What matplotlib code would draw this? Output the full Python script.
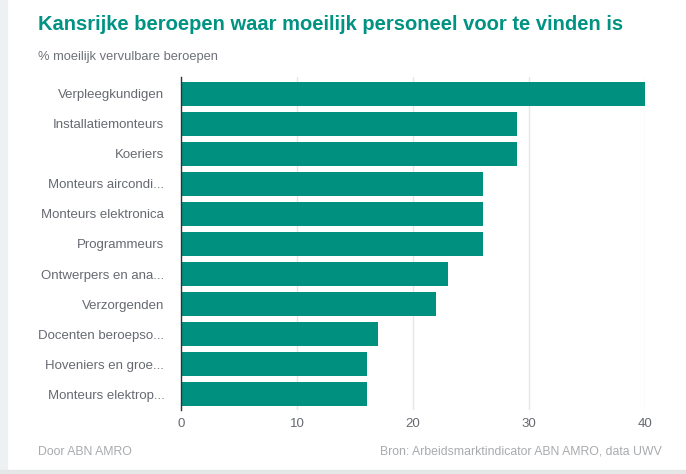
import matplotlib.pyplot as plt
from matplotlib.patches import Rectangle

plt.rcParams['font.family'] = ['Liberation Sans', 'DejaVu Sans']

beroepen = ["Verpleegkundigen", "Installatiemonteurs", "Koeriers",
            "Monteurs aircondi...", "Monteurs elektronica", "Programmeurs",
            "Ontwerpers en ana...", "Verzorgenden", "Docenten beroepso...",
            "Hoveniers en groe...", "Monteurs elektrop..."]
percentages = [40, 29, 29, 26, 26, 26, 23, 22, 17, 16, 16]
xticks = [0, 10, 20, 30, 40]

teal = "#00907f"

fig = plt.figure(figsize=(6.86, 4.74), dpi=100)
fig.patch.set_facecolor("white")
# grey frame strips at left and bottom
fig.add_artist(Rectangle((0, 0), 7 / 686, 1, transform=fig.transFigure,
                         color="#eef1f2", zorder=0))
fig.add_artist(Rectangle((0, 0), 1, 4 / 474, transform=fig.transFigure,
                         color="#e4e6e7", zorder=0))

ax = fig.add_axes([181 / 686, 1 - 410 / 474, (645 - 181) / 686, (410 - 77) / 474])
ax.barh(range(len(beroepen)), percentages, height=0.8, color=teal, zorder=2)

ax.set_xlim(0, 40)
ax.set_ylim(10.52, -0.55)
ax.set_yticks(range(len(beroepen)))
ax.set_yticklabels(beroepen)
ax.set_xticks(xticks)
ax.tick_params(axis="y", length=0, pad=12, labelsize=9.5, labelcolor="#666a70")
ax.tick_params(axis="x", length=0, pad=6, labelsize=9.5, labelcolor="#666a70")
ax.grid(axis="x", color="#e6e6e6", linewidth=1, zorder=0)
for side in ["top", "right", "bottom"]:
    ax.spines[side].set_visible(False)
ax.spines["left"].set_color("#333333")
ax.spines["left"].set_linewidth(1)
ax.spines["left"].set_zorder(3)

fig.text(38 / 686, 1 - 24 / 474, "Kansrijke beroepen waar moeilijk personeel voor te vinden is",
         fontsize=14.5, fontweight="bold", color="#009383", va="center", ha="left")
fig.text(38 / 686, 1 - 57 / 474, "% moeilijk vervulbare beroepen",
         fontsize=9.3, color="#6e7278", va="center", ha="left")
fig.text(38 / 686, 1 - 452 / 474, "Door ABN AMRO",
         fontsize=8.8, color="#a8abae", va="center", ha="left")
fig.text(662 / 686, 1 - 452 / 474, "Bron: Arbeidsmarktindicator ABN AMRO, data UWV",
         fontsize=8.8, color="#a8abae", va="center", ha="right")

fig.savefig("out.png", dpi=100)
